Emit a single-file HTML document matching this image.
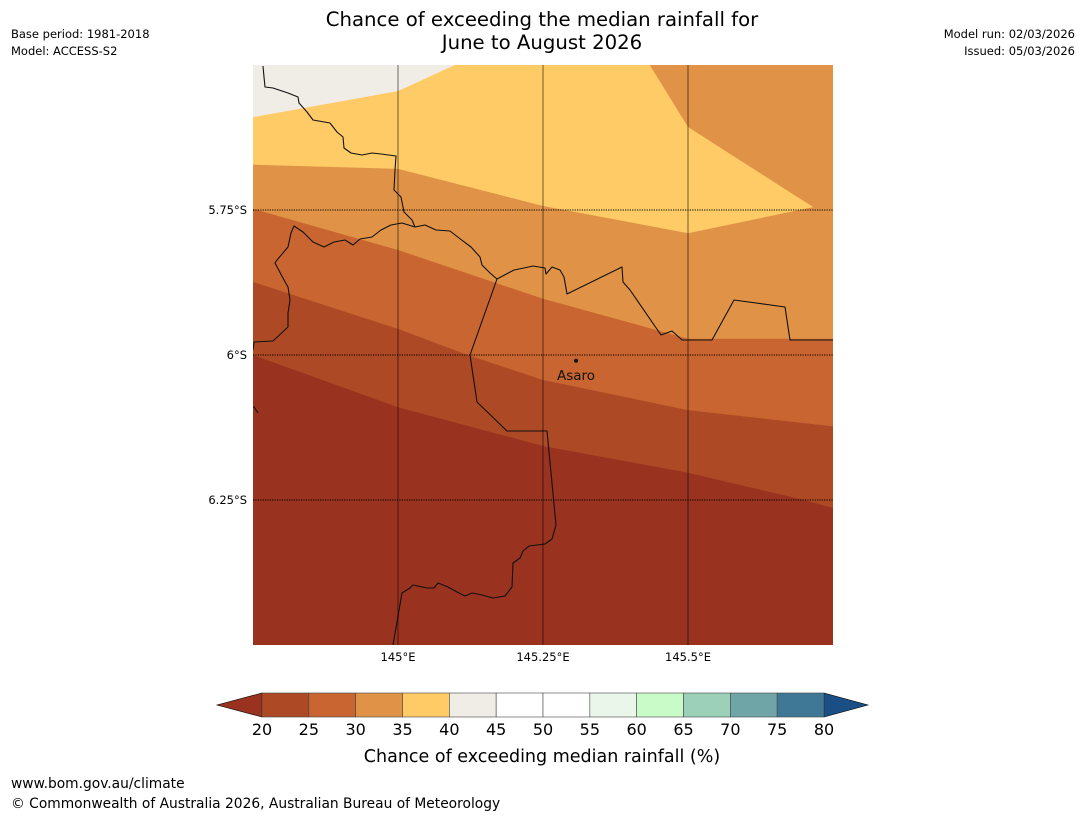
<!DOCTYPE html>
<html><head><meta charset="utf-8"><style>
html,body{margin:0;padding:0;background:#fff;}
svg{display:block;font-family:"DejaVu Sans","Liberation Sans",sans-serif;}
</style></head><body>
<svg id="c" width="1085" height="816" viewBox="0 0 1085 816">
<rect width="1085" height="816" fill="#fff"/>
<text x="542" y="26" text-anchor="middle" font-size="19.7">Chance of exceeding the median rainfall for</text>
<text x="542" y="49" text-anchor="middle" font-size="19.7">June to August 2026</text>
<text x="11" y="38" font-size="11.5">Base period: 1981-2018</text>
<text x="11" y="55" font-size="11.5">Model: ACCESS-S2</text>
<text x="1075" y="38" font-size="11.5" text-anchor="end">Model run: 02/03/2026</text>
<text x="1075" y="55" font-size="11.5" text-anchor="end">Issued: 05/03/2026</text>
<defs><clipPath id="mc"><rect x="253" y="65" width="580" height="580"/></clipPath></defs>
<g id="map" clip-path="url(#mc)"></g>
<g id="axes"></g>
<g id="cbar"></g>
<text x="542" y="762" text-anchor="middle" font-size="17.5">Chance of exceeding median rainfall (%)</text>
<text x="11" y="788" font-size="13.8">www.bom.gov.au/climate</text>
<text x="11" y="808" font-size="13.8">© Commonwealth of Australia 2026, Australian Bureau of Meteorology</text>
</svg>
<script>
const lonRange=[144.75,145.75], latRange=[-5.5,-6.5];
const lonTicks=[145,145.25,145.5], lonTickLabels=["145°E","145.25°E","145.5°E"];
const latTicks=[-5.75,-6,-6.25], latTickLabels=["5.75°S","6°S","6.25°S"];
const bandLevels=["<20","20-25","25-30","30-35","35-40","40-45"];
const bandColors=["#99321f","#ad4a25","#c96530","#e09346","#fecb67","#f0ece6"];
const bnd20_25Lon=[144.75,145,145.25,145.5,145.7,145.75];
const bnd20_25Lat=[-6.0,-6.09,-6.157,-6.203,-6.25,-6.264];
const bnd25_30Lon=[144.75,145,145.12,145.25,145.5,145.75];
const bnd25_30Lat=[-5.874,-5.955,-6.0,-6.043,-6.095,-6.123];
const bnd30_35Lon=[144.75,145,145.25,145.5,145.75];
const bnd30_35Lat=[-5.748,-5.819,-5.903,-5.972,-5.972];
const yelLon=[144.75,145,145.25,145.5,145.716,145.5,145.434];
const yelLat=[-5.672,-5.679,-5.743,-5.79,-5.745,-5.607,-5.5];
const greyLon=[144.75,145,145.098];
const greyLat=[-5.59,-5.545,-5.5];
const coastA=[[263,66],[264,77],[265,87],[273,88],[288,93],[298,97],[299,103],[307,112],[313,120],[330,123],[337,132],[343,137],[344,148],[351,153],[362,155],[372,153],[381,154],[396,156],[395,170],[394,190],[401,197],[404,212],[412,220],[415,227],[425,225],[436,230],[450,231],[459,238],[471,247],[480,257],[482,265],[490,273],[497,279],[514,270],[524,268],[533,266],[545,268],[546,274],[552,267],[560,270],[564,277],[567,294],[622,267],[623,282],[630,290],[661,335],[672,331],[682,340],[712,340],[734,300],[785,307],[790,340],[840,340]];
const coastB=[[415,227],[402,223],[391,225],[381,230],[372,237],[360,239],[353,245],[345,240],[334,242],[324,247],[313,242],[303,232],[294,226],[291,233],[288,247],[277,260],[275,263],[284,280],[288,287],[290,300],[288,313],[288,327],[273,341],[254,342],[253,350]];
const coastC=[[497,279],[470,355],[477,402],[507,431],[547,431],[556,525],[552,539],[545,544],[529,546],[523,551],[520,558],[513,563],[512,587],[505,596],[493,598],[482,595],[472,593],[465,596],[457,592],[448,587],[438,583],[434,588],[427,588],[413,585],[410,588],[402,593],[393,645]];
const coastD=[[250,407],[254,407],[258,413]];
const town={name:"Asaro",lon:145.307,lat:-6.01};
const cbLevels=[20,25,30,35,40,45,50,55,60,65,70,75,80];
const cbColors=["#ad4a25","#c96530","#e09346","#fecb67","#f0ece6","#ffffff","#ffffff","#eaf6ea","#c9fbc9","#9dd0b8","#6fa5a7","#3f7896"];
const cbUnder="#99321f", cbOver="#1a4f86";

const X0=253,X1=833,Y0=65,Y1=645;
const sx=lon=>X0+(lon-lonRange[0])/(lonRange[1]-lonRange[0])*(X1-X0);
const sy=lat=>Y0+(lat-latRange[0])/(latRange[1]-latRange[0])*(Y1-Y0);
const NS="http://www.w3.org/2000/svg";
function mk(tag,attrs,parent){const e=document.createElementNS(NS,tag);for(const k in attrs)e.setAttribute(k,attrs[k]);parent.appendChild(e);return e;}
const map=document.getElementById('map');
function pts(lons,lats){return lons.map((l,i)=>sx(l)+","+sy(lats[i])).join(" ");}
let r=mk('rect',{x:X0,y:Y0,width:X1-X0,height:Y1-Y0,fill:bandColors[0]},map);


function band(lons,lats,color,name){
  const p=mk('polygon',{points:pts(lons,lats)+" "+sx(lonRange[1])+","+sy(latRange[0])+" "+sx(lonRange[0])+","+sy(latRange[0]),fill:color},map);
  
  
}
band(bnd20_25Lon,bnd20_25Lat,bandColors[1],'band-20-25');
band(bnd25_30Lon,bnd25_30Lat,bandColors[2],'band-25-30');
band(bnd30_35Lon,bnd30_35Lat,bandColors[3],'band-30-35');
let py=mk('polygon',{points:pts(yelLon,yelLat)+" "+sx(144.75)+","+sy(-5.5),fill:bandColors[4]},map);


let pg=mk('polygon',{points:pts(greyLon,greyLat)+" "+sx(144.75)+","+sy(-5.5),fill:bandColors[5]},map);


const toLon=x=>lonRange[0]+(x-X0)/(X1-X0)*(lonRange[1]-lonRange[0]);
const toLat=y=>latRange[0]+(y-Y0)/(Y1-Y0)*(latRange[1]-latRange[0]);
[coastA,coastB,coastC,coastD].forEach((c,i)=>{
  const pl=mk('polyline',{points:c.map(p=>sx(toLon(p[0]))+","+sy(toLat(p[1]))).join(" "),fill:"none",stroke:"#111","stroke-width":1.1,"stroke-linejoin":"round"},map);
  
  
});
lonTicks.forEach((t,i)=>{
  const l=mk('line',{x1:sx(t),x2:sx(t),y1:Y0,y2:Y1,stroke:"#000","stroke-opacity":0.4,"stroke-width":1.4},map);
  
  
  const tx=mk('text',{x:sx(t),y:661,"text-anchor":"middle","font-size":11.5},document.getElementById('axes'));
  tx.textContent=lonTickLabels[i];
  
  
});
latTicks.forEach((t,i)=>{
  const l=mk('line',{x1:X0,x2:X1,y1:sy(t),y2:sy(t),stroke:"#000","stroke-width":1,"stroke-dasharray":"1.2,1.2"},map);
  
  
  const tx=mk('text',{x:247,y:sy(t)+4,"text-anchor":"end","font-size":11.5},document.getElementById('axes'));
  tx.textContent=latTickLabels[i];
  
  
});
let dot=mk('circle',{cx:sx(town.lon),cy:sy(town.lat),r:2,fill:"#111"},map);


let tl=mk('text',{x:sx(town.lon),y:sy(town.lat)+19,"text-anchor":"middle","font-size":13.5,fill:"#111"},map);
tl.textContent=town.name;


const cb=document.getElementById('cbar');
const CX0=262,CX1=824,CY0=693,CY1=717;
const cx=v=>CX0+(v-cbLevels[0])/(cbLevels[cbLevels.length-1]-cbLevels[0])*(CX1-CX0);
let tu=mk('polygon',{points:`${CX0},${CY0} ${CX0},${CY1} 217,${(CY0+CY1)/2}`,fill:cbUnder,stroke:"#000","stroke-width":0.6},cb);


let to=mk('polygon',{points:`${CX1},${CY0} ${CX1},${CY1} 868,${(CY0+CY1)/2}`,fill:cbOver,stroke:"#000","stroke-width":0.6},cb);


cbColors.forEach((c,i)=>{
  const b=mk('rect',{x:cx(cbLevels[i]),y:CY0,width:cx(cbLevels[i+1])-cx(cbLevels[i]),height:CY1-CY0,fill:c,stroke:"#444","stroke-width":0.6},cb);
  
  
});
cbLevels.forEach(v=>{
  const t=mk('text',{x:cx(v),y:735,"text-anchor":"middle","font-size":16},cb);
  t.textContent=v;
  
  
});
</script>
</body></html>
